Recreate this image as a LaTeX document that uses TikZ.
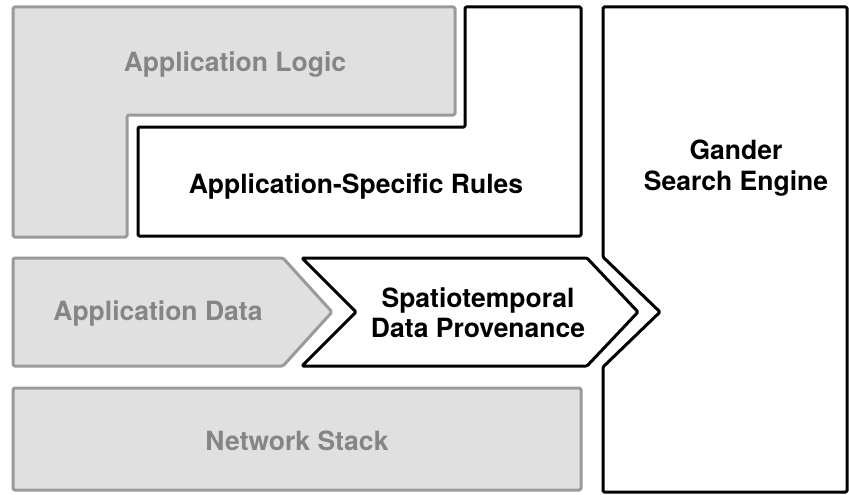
\documentclass[tikz,border=0pt]{standalone}
\usepackage{fontspec}
\setmainfont{TeX Gyre Heros}
\begin{document}
\begin{tikzpicture}[x=1pt,y=-1pt,
  graybox/.style={fill=gfill,draw=gline,line width=3pt,rounded corners=1.5pt,line join=round},
  blackbox/.style={fill=white,draw=black,line width=3pt,rounded corners=1.2pt,line join=round},
  graytxt/.style={text=gtext,font=\fontsize{26.5}{30.5}\selectfont\bfseries,inner sep=0pt},
  blacktxt/.style={text=black,font=\fontsize{26.5}{30.5}\selectfont\bfseries,inner sep=0pt,align=center}]
\definecolor{gfill}{HTML}{E0E0E0}
\definecolor{gline}{HTML}{9A9A9A}
\definecolor{gtext}{HTML}{858585}
\useasboundingbox (0,0) rectangle (849,495);
% shapes
\draw[graybox] (13,7) -- (455,7) -- (455,115) -- (127,115) -- (127,237) -- (13,237) -- cycle;
\draw[blackbox] (138,127) -- (465,127) -- (465,7) -- (581,7) -- (581,236) -- (138,236) -- cycle;
\draw[graybox] (13,258) -- (283,258) -- (332,312) -- (283,366) -- (13,366) -- cycle;
\draw[blackbox] (302,258) -- (587,258) -- (638,312) -- (587,366) -- (302,366) -- (356,312) -- cycle;
\draw[blackbox] (603,7) -- (847,7) -- (847,492) -- (603,492) -- (603,367) -- (660,312) -- (603,257) -- cycle;
\draw[graybox] (13,388) rectangle (581,490);
% labels
\node[graytxt,anchor=base] (logic) at (235,72) {Application Logic};
\node[blacktxt,anchor=base] (rules) at (356,193) {Application-Specific Rules};
\node[graytxt,anchor=base] (data) at (158,320) {Application Data};
\node[blacktxt] (prov) at (478,312.5) {Spatiotemporal\\Data Provenance};
\node[blacktxt] (gander) at (736,168) {Gander\\Search Engine};
\node[graytxt,anchor=base] (net) at (297,450) {Network Stack};
\end{tikzpicture}
\end{document}
